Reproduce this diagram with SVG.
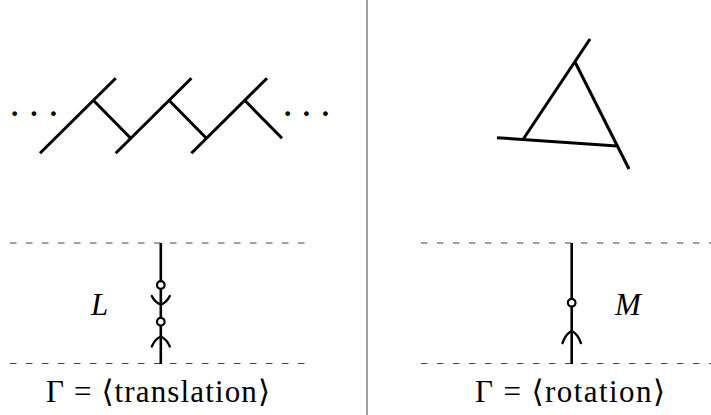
<svg xmlns="http://www.w3.org/2000/svg" width="711" height="415" viewBox="0 0 711 415">
<style>
.thick{stroke:#000;stroke-width:3;stroke-linecap:butt;fill:none}
.edge{stroke:#000;stroke-width:2.6;fill:none}
.tip{stroke:#000;stroke-width:2.4;fill:none;stroke-linecap:round}
.node{stroke:#000;stroke-width:2.2;fill:#fff}
.dash{stroke:#444;stroke-width:1;stroke-dasharray:6.5 9.5;fill:none}
.sep{stroke:#444;stroke-width:1}
.lbl{font-family:"Liberation Serif","DejaVu Serif","DejaVu Sans",serif;font-size:31px;fill:#000}
.it{font-style:italic}
.dots{font-family:"Liberation Serif",serif;font-size:40px;fill:#000}
</style>
<rect width="711" height="415" fill="#fff"/>
<line id="separator" class="sep" x1="367" y1="0" x2="367" y2="415"/>

<g id="translation-chain">
  <text class="dots" x="8" y="126.5" letter-spacing="6">···</text>
  <line class="thick" x1="40" y1="153.3" x2="115.7" y2="78.3"/>
  <line class="thick" x1="93.3" y1="100.3" x2="130.7" y2="138.3"/>
  <line class="thick" x1="115.7" y1="153.3" x2="191.4" y2="78.3"/>
  <line class="thick" x1="169" y1="100.3" x2="206.4" y2="138.3"/>
  <line class="thick" x1="191.4" y1="153.3" x2="267" y2="78.3"/>
  <line class="thick" x1="244.7" y1="100.3" x2="282" y2="138.3"/>
  <text class="dots" x="281" y="126.5" letter-spacing="5.5">···</text>
</g>

<g id="rotation-triangle">
  <line class="thick" x1="590" y1="39" x2="523" y2="139.5"/>
  <line class="thick" x1="575" y1="62" x2="629" y2="169"/>
  <line class="thick" x1="497" y1="137.7" x2="617" y2="146"/>
</g>

<g id="left-strip">
  <line class="dash" x1="10" y1="243" x2="305" y2="243"/>
  <line class="dash" x1="10" y1="363.5" x2="305" y2="363.5"/>
</g>
<g id="right-strip">
  <line class="dash" x1="421" y1="243" x2="711" y2="243"/>
  <line class="dash" x1="421" y1="363.5" x2="711" y2="363.5"/>
</g>

<g id="connectors">
  <line class="edge" x1="160.8" y1="243" x2="160.8" y2="364"/>
  <path class="tip" d="M151.8,296 Q155,302.5 160.8,304.5 Q166.6,302.5 169.8,296"/>
  <path class="tip" d="M151.8,346.5 Q155,339 160.8,336.5 Q166.6,339 169.8,346.5"/>
  <line class="edge" x1="571.7" y1="243" x2="571.7" y2="364"/>
  <path class="tip" d="M562.5,343 Q565.5,334 571.7,331 Q577.9,334 580.9,343"/>
</g>

<g id="node-L1"><circle class="node" cx="160.8" cy="285" r="3.8"/></g>
<g id="node-L2"><circle class="node" cx="160.8" cy="321.7" r="3.8"/></g>
<g id="node-M1"><circle class="node" cx="571.7" cy="302.7" r="3.8"/></g>

<g id="label-L"><text class="lbl it" x="91" y="315">L</text></g>
<g id="label-M"><text class="lbl it" x="615" y="315">M</text></g>
<g id="caption-left"><text class="lbl" x="46" y="402" textLength="224">Γ = ⟨translation⟩</text></g>
<g id="caption-right"><text class="lbl" x="475" y="402" textLength="190">Γ = ⟨rotation⟩</text></g>
</svg>
